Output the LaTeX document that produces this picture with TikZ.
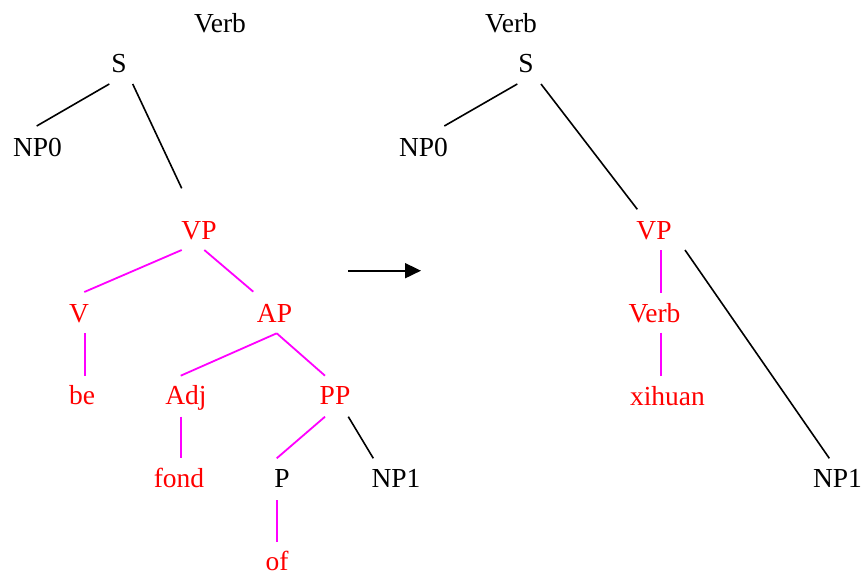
\documentclass[tikz,border=0pt]{standalone}
\usepackage{fontspec}
\setmainfont{Liberation Serif}
\usetikzlibrary{arrows.meta}
\definecolor{tred}{RGB}{255,0,0}
\definecolor{tmag}{RGB}{255,0,255}
\tikzset{
  lbl/.style={anchor=base,inner sep=0pt,font=\fontsize{27.5}{33}\selectfont},
  rlbl/.style={lbl,text=tred},
  blk/.style={draw=black,line width=1.6pt},
  mag/.style={draw=tmag,line width=1.8pt},
  arr/.style={draw=black,line width=1.8pt,-{Triangle[length=16pt,width=15pt]}}
}
\begin{document}
\begin{tikzpicture}[x=1pt,y=-1pt]
\useasboundingbox (0,0) rectangle (864,576);
% left tree
\node[lbl] (lverb) at (220,32) {Verb};
\node[lbl] (lS) at (119,72.7) {S};
\node[lbl] (lNP0) at (37.5,156) {NP0};
\node[rlbl] (lVP) at (199,239.3) {VP};
\node[rlbl] (lV) at (79,322) {V};
\node[rlbl] (lAP) at (274.5,322) {AP};
\node[rlbl] (lbe) at (82,404.5) {be};
\node[rlbl] (lAdj) at (186,404.5) {Adj};
\node[rlbl] (lPP) at (335,404.5) {PP};
\node[rlbl] (lfond) at (179,487) {fond};
\node[lbl] (lP) at (282,487) {P};
\node[lbl] (lNP1) at (396,487) {NP1};
\node[rlbl] (lof) at (277,570) {of};
\draw[blk] ([shift={(-9.7,11.3)}]lS.base) -- ([shift={(-0.8,-30)}]lNP0.base);
\draw[blk] ([shift={(13.7,11.3)}]lS.base) -- ([shift={(-17.3,-51)}]lVP.base);
\draw[mag] ([shift={(-17.3,10.7)}]lVP.base) -- ([shift={(5.3,-30)}]lV.base);
\draw[mag] ([shift={(5.3,10.7)}]lVP.base) -- ([shift={(-21.2,-30.3)}]lAP.base);
\draw[mag] ([shift={(6,11.3)}]lV.base) -- ([shift={(3,-28.8)}]lbe.base);
\draw[mag] ([shift={(2.2,11.3)}]lAP.base) -- ([shift={(-5.3,-28.8)}]lAdj.base);
\draw[mag] ([shift={(2.2,11.3)}]lAP.base) -- ([shift={(-10,-28.8)}]lPP.base);
\draw[mag] ([shift={(-5,12.2)}]lAdj.base) -- ([shift={(2,-28.7)}]lfond.base);
\draw[mag] ([shift={(-10,12.2)}]lPP.base) -- ([shift={(-5.3,-28.7)}]lP.base);
\draw[blk] ([shift={(13.3,12.2)}]lPP.base) -- ([shift={(-22.7,-28.7)}]lNP1.base);
\draw[mag] ([shift={(-5,13)}]lP.base) -- ([shift={(0,-28.3)}]lof.base);
% arrow
\coordinate (a1) at (348.3,270.7);
\coordinate (a2) at (421,270.7);
\draw[arr] (a1) -- (a2);
% right tree
\node[lbl] (rverb) at (511,32) {Verb};
\node[lbl] (rS) at (526,72.7) {S};
\node[lbl] (rNP0) at (423.5,156) {NP0};
\node[rlbl] (rVP) at (654,239.3) {VP};
\node[rlbl] (rVerb) at (654.5,322.5) {Verb};
\node[rlbl] (rxi) at (667.5,405) {xihuan};
\node[lbl] (rNP1) at (837.5,487) {NP1};
\draw[blk] ([shift={(-8.7,11.3)}]rS.base) -- ([shift={(20.8,-30)}]rNP0.base);
\draw[blk] ([shift={(15,11.3)}]rS.base) -- ([shift={(-16.7,-30)}]rVP.base);
\draw[mag] ([shift={(7,10.7)}]rVP.base) -- ([shift={(6.5,-29.8)}]rVerb.base);
\draw[blk] ([shift={(31,10.7)}]rVP.base) -- ([shift={(-8.2,-28.7)}]rNP1.base);
\draw[mag] ([shift={(6.5,10.2)}]rVerb.base) -- ([shift={(-6.5,-29.3)}]rxi.base);
\end{tikzpicture}
\end{document}
